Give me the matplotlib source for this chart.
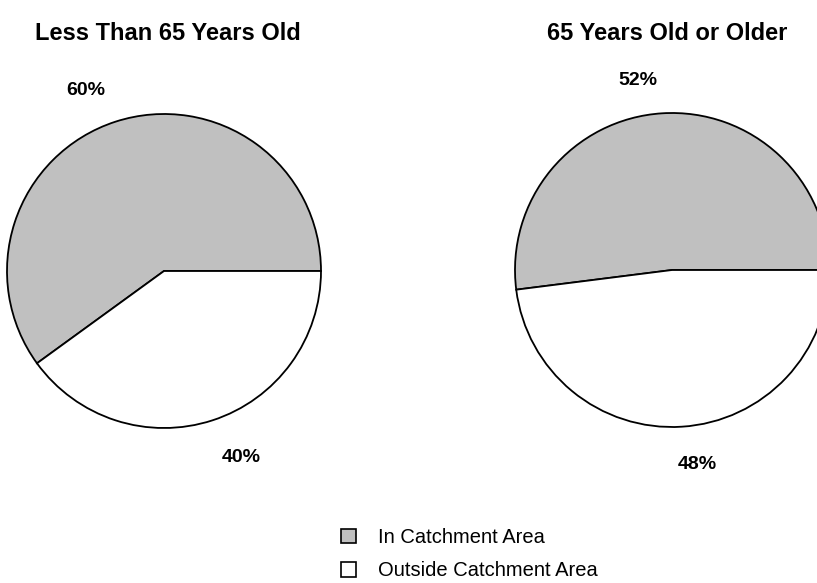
import matplotlib
matplotlib.use("Agg")
import matplotlib.pyplot as plt
from matplotlib.patches import Patch

plt.rcParams['font.family'] = ['Liberation Sans', 'DejaVu Sans']

# data
titles = ["Less Than 65 Years Old", "65 Years Old or Older"]
categories = ["In Catchment Area", "Outside Catchment Area"]
under_65 = [60, 40]
over_65 = [52, 48]
colors = ["#c0c0c0", "#ffffff"]

W, H = 817, 583
fig = plt.figure(figsize=(W / 100, H / 100), dpi=100)

R = 157      # pie radius in px
LIM = 1.02   # axes half-range in pie units

def make_axes(cx, cy):
    half = R * LIM
    return fig.add_axes([(cx - half) / W, (H - cy - half) / H, 2 * half / W, 2 * half / H])

# label positions in pie units (relative to centre)
label_pos = [[(-0.50, 1.15), (0.49, -1.19)],
             [(-0.22, 1.21), (0.16, -1.24)]]
centers = [(164, 271), (672, 270)]
title_x = [168, 667]

for i, vals in enumerate([under_65, over_65]):
    ax = make_axes(*centers[i])
    ax.pie(vals, colors=colors, startangle=0, counterclock=True,
           wedgeprops=dict(edgecolor='black', linewidth=1.3))
    ax.set_xlim(-LIM, LIM)
    ax.set_ylim(-LIM, LIM)
    ax.set_aspect('equal')
    ax.axis('off')
    for v, (lx, ly) in zip(vals, label_pos[i]):
        ax.text(lx, ly, f"{v}%", ha='center', va='center', fontsize=14,
                fontweight='bold', clip_on=False)
    fig.text(title_x[i] / W, 1 - 33 / H, titles[i], ha='center', va='center',
             fontsize=17, fontweight='bold')

handles = [Patch(facecolor=c, edgecolor='black', linewidth=1.2) for c in colors]
fig.legend(handles, categories, loc='upper left', bbox_to_anchor=(341 / W, 1 - 528 / H),
           frameon=False, fontsize=14.5, handlelength=0.75, handleheight=0.75,
           handletextpad=1.1, labelspacing=0.72, borderpad=0, borderaxespad=0)

fig.savefig("out.png", dpi=100)
